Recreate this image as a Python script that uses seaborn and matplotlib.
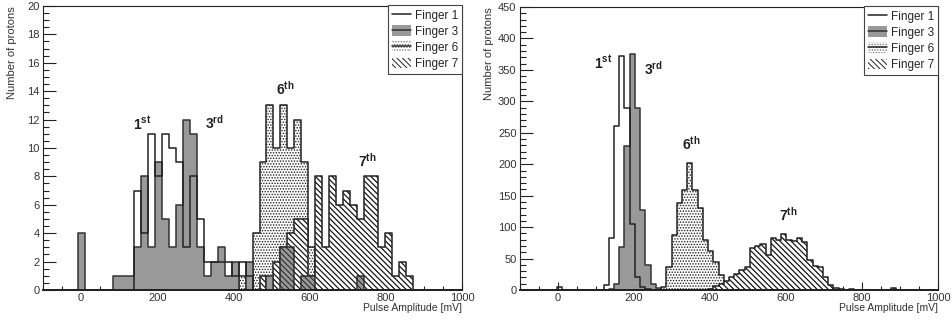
import numpy as np
import pandas as pd
import matplotlib
matplotlib.use("Agg")
import matplotlib.pyplot as plt
import seaborn as sns
from matplotlib.patches import Patch
from matplotlib.lines import Line2D
from matplotlib.ticker import MultipleLocator

# ---------------- data ----------------
x_range = [-100, 1000]
n_bins_left = 60
n_bins_right = 80
legend_labels = ["Finger 1", "Finger 3", "Finger 6", "Finger 7"]
x_label = "Pulse Amplitude [mV]"
y_label = "Number of protons"

# left panel: first bin index + counts
f1_left_start = 13
f1_left = [7, 4, 11, 8, 11, 10, 9, 3, 8, 5, 2, 2, 2, 2, 1, 2, 1]
f3_left_start = 5
f3_left = [4, 0, 0, 0, 0, 1, 1, 1, 3, 8, 3, 9, 5, 3, 6, 12, 11, 3, 1, 2, 3, 1, 2, 0, 2,
           0, 0, 1, 0, 3, 3, 0, 1, 1, 0, 0, 0, 0, 0, 0, 1]
f6_left_start = 28
f6_left = [1, 0, 4, 9, 13, 10, 13, 10, 12, 9, 3, 1]
f7_left_start = 31
f7_left = [1, 0, 2, 3, 4, 5, 5, 1, 8, 3, 8, 6, 7, 6, 5, 8, 8, 3, 4, 1, 2, 1]

# right panel
f1_right_start = 7
f1_right = [4, 0, 0, 0, 0, 0, 0, 0, 0, 8, 83, 260, 372, 290, 105, 20, 5, 2]
f3_right_start = 17
f3_right = [2, 10, 68, 229, 375, 289, 127, 40, 10, 3]
f6_right_start = 26
f6_right = [2, 5, 36, 87, 138, 159, 202, 159, 130, 80, 62, 45, 24, 9, 3]
f7_right_start = 36
f7_right = [2, 6, 10, 15, 20, 26, 31, 36, 66, 70, 73, 56, 83, 79, 89, 80, 78, 82, 77,
            48, 38, 36, 21, 8, 3, 1, 0, 2, 0, 0, 0, 0, 0, 0, 0, 3]

labels_left = [("1", "st", 160, 11.7), ("3", "rd", 350, 11.8), ("6", "th", 535, 14.2), ("7", "th", 752, 9.1)]
labels_right = [("1", "st", 120, 362), ("3", "rd", 250, 352), ("6", "th", 350, 232), ("7", "th", 606, 120)]


def full(start, vals, n):
    a = np.zeros(n)
    a[start:start + len(vals)] = vals
    return a


# ---------------- style ----------------
sns.set_style("white")
plt.rcParams["font.family"] = ["Liberation Sans", "DejaVu Sans"]
plt.rcParams["mathtext.fontset"] = "custom"
plt.rcParams["mathtext.rm"] = "Liberation Sans"
plt.rcParams["mathtext.bf"] = "Liberation Sans:bold"
plt.rcParams["hatch.linewidth"] = 0.7

DARK = "#222222"
GRAY = "#999999"
LW = 1.1
HATCH7 = "\\" * 6
HATCH6 = "." * 6

fig = plt.figure(figsize=(9.52, 3.2), dpi=100)
ax_l = fig.add_axes([0.0452, 0.0938, 0.4401, 0.8875])
ax_r = fig.add_axes([0.5462, 0.0938, 0.4391, 0.8843])


def hist(ax, nb, counts, **kw):
    width = (x_range[1] - x_range[0]) / nb
    centers = x_range[0] + width * (np.arange(nb) + 0.5)
    df = pd.DataFrame({"amp": centers, "n": counts})
    sns.histplot(data=df, x="amp", weights="n", binwidth=width, binrange=tuple(x_range),
                 element="step", fill=True, ax=ax, **kw)


def draw_panel(ax, nb, f1, f3, f6, f7, ymax, ymaj, ymin, labels):
    hist(ax, nb, f6, color=DARK, facecolor="white", edgecolor=DARK, hatch=HATCH6,
         linewidth=LW, zorder=2)
    hist(ax, nb, f7, color=DARK, facecolor="white", edgecolor=DARK, hatch=HATCH7,
         linewidth=LW, zorder=3)
    hist(ax, nb, f3, color=DARK, facecolor=GRAY, edgecolor="#333333",
         linewidth=LW, zorder=4)
    hist(ax, nb, f7, color=DARK, facecolor="none", edgecolor=DARK, hatch=HATCH7,
         linewidth=0, zorder=4.5)
    hist(ax, nb, f1, color=DARK, facecolor="none", edgecolor=DARK,
         linewidth=LW, zorder=5)

    ax.set_xlim(*x_range)
    ax.set_ylim(0, ymax)
    ax.set_xticks(range(0, 1001, 200))
    ax.xaxis.set_minor_locator(MultipleLocator(50))
    ax.set_yticks(np.arange(0, ymax + 0.001, ymaj))
    ax.yaxis.set_minor_locator(MultipleLocator(ymin))
    ax.tick_params(axis="both", which="both", direction="in", top=False, right=False,
                   left=True, bottom=True,
                   colors=DARK, width=0.8, labelsize=8, labelcolor="#333333")
    ax.tick_params(axis="y", which="major", length=9, pad=2.5)
    ax.tick_params(axis="y", which="minor", length=4.5)
    ax.tick_params(axis="x", which="major", length=6, pad=2)
    ax.tick_params(axis="x", which="minor", length=3)
    for s in ax.spines.values():
        s.set_color(DARK)
        s.set_linewidth(0.8)
        s.set_zorder(7)
    ax.spines["bottom"].set_linewidth(1.4)

    ax.set_xlabel(x_label, loc="right", fontsize=7.5, color="#333333")
    ax.xaxis.set_label_coords(1.0, -0.045)
    ax.set_ylabel(y_label, loc="top", fontsize=8, color="#333333")
    ax.yaxis.set_label_coords(-0.061, 1.0)

    for num, sup, x, y in labels:
        ax.text(x, y, r"$\mathbf{%s}^{\mathbf{%s}}$" % (num, sup), fontsize=10,
                ha="center", va="center", color="#222222", zorder=6)

    handles = [
        Line2D([0], [0], color=DARK, lw=LW),
        (Patch(facecolor=GRAY, edgecolor="none"), Line2D([0], [0], color="#333333", lw=LW)),
        (Patch(facecolor="white", edgecolor="#777777", hatch=HATCH6, linewidth=0),
         Line2D([0], [0], color=DARK, lw=LW)),
        Patch(facecolor="white", edgecolor=DARK, hatch=HATCH7, linewidth=0),
    ]
    leg = ax.legend(handles, legend_labels, loc="upper right", bbox_to_anchor=(1.0, 1.003),
                    borderaxespad=0, frameon=True, fancybox=False, framealpha=1,
                    edgecolor="#444444", fontsize=8.5, handlelength=1.6, handleheight=1.0,
                    handletextpad=0.3, borderpad=0.35, labelspacing=0.32)
    leg.get_frame().set_linewidth(0.8)
    leg.set_zorder(10)


draw_panel(ax_l, n_bins_left,
           full(f1_left_start, f1_left, n_bins_left),
           full(f3_left_start, f3_left, n_bins_left),
           full(f6_left_start, f6_left, n_bins_left),
           full(f7_left_start, f7_left, n_bins_left),
           20, 2, 0.5, labels_left)
draw_panel(ax_r, n_bins_right,
           full(f1_right_start, f1_right, n_bins_right),
           full(f3_right_start, f3_right, n_bins_right),
           full(f6_right_start, f6_right, n_bins_right),
           full(f7_right_start, f7_right, n_bins_right),
           450, 50, 10, labels_right)

fig.savefig("out.png", dpi=100)
